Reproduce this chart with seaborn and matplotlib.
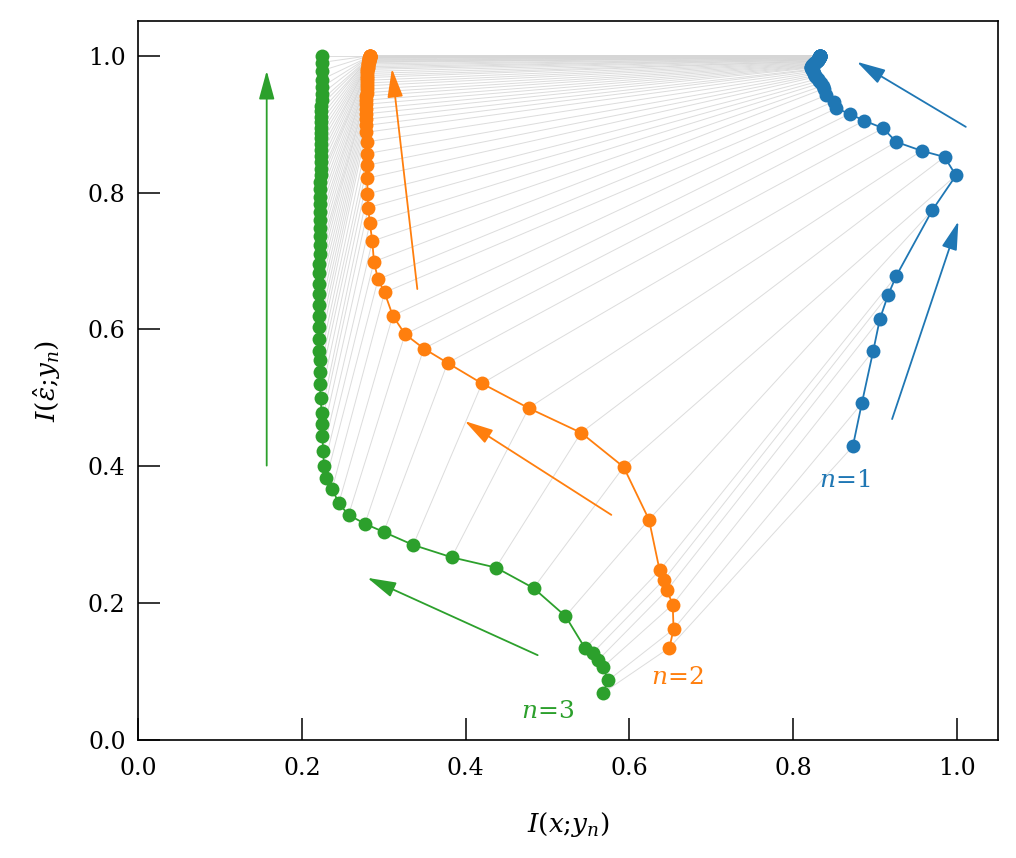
import numpy as np
import pandas as pd
import seaborn as sns
import matplotlib.pyplot as plt

# trajectories, one point per step, same length for all three
green_x = [0.568, 0.574, 0.568, 0.562, 0.555, 0.546, 0.522, 0.483, 0.437, 0.383,
           0.336, 0.300, 0.277, 0.257, 0.245, 0.237, 0.230, 0.227, 0.226, 0.225,
           0.224, 0.224, 0.223, 0.222, 0.222, 0.222, 0.221, 0.221, 0.221, 0.221,
           0.221, 0.221, 0.221, 0.221, 0.221, 0.222, 0.222, 0.222, 0.222, 0.222,
           0.222, 0.222, 0.222, 0.222, 0.222, 0.223, 0.223, 0.223, 0.223, 0.223,
           0.223, 0.223, 0.223, 0.223, 0.223, 0.223, 0.223, 0.223, 0.224, 0.224,
           0.224, 0.224, 0.224, 0.224, 0.224]
green_y = [0.069, 0.087, 0.107, 0.117, 0.127, 0.134, 0.181, 0.222, 0.252, 0.267,
           0.285, 0.304, 0.316, 0.329, 0.346, 0.367, 0.383, 0.400, 0.422, 0.444,
           0.462, 0.478, 0.500, 0.520, 0.538, 0.555, 0.569, 0.586, 0.603, 0.620,
           0.636, 0.652, 0.667, 0.682, 0.696, 0.710, 0.723, 0.736, 0.748, 0.760,
           0.772, 0.783, 0.794, 0.805, 0.815, 0.825, 0.835, 0.844, 0.853, 0.862,
           0.871, 0.879, 0.887, 0.895, 0.903, 0.911, 0.919, 0.927, 0.935, 0.944,
           0.954, 0.965, 0.978, 0.990, 1.000]

orange_x = [0.649, 0.654, 0.653, 0.646, 0.642, 0.637, 0.624, 0.593, 0.541, 0.477,
            0.420, 0.378, 0.349, 0.326, 0.311, 0.301, 0.293, 0.288, 0.286, 0.283,
            0.281, 0.280, 0.280, 0.280, 0.280, 0.279, 0.278, 0.278, 0.278, 0.278,
            0.278, 0.278, 0.278, 0.278, 0.279, 0.279, 0.279, 0.279, 0.279, 0.280,
            0.280, 0.280, 0.280, 0.280, 0.281, 0.281, 0.281, 0.281, 0.281, 0.282,
            0.282, 0.282, 0.282, 0.282, 0.282, 0.282, 0.283, 0.283, 0.283, 0.283,
            0.283, 0.283, 0.283, 0.283, 0.283]
orange_y = [0.135, 0.162, 0.198, 0.219, 0.234, 0.248, 0.322, 0.399, 0.449, 0.485,
            0.521, 0.551, 0.572, 0.593, 0.620, 0.654, 0.673, 0.699, 0.729, 0.755,
            0.778, 0.798, 0.821, 0.840, 0.857, 0.874, 0.888, 0.898, 0.907, 0.915,
            0.922, 0.929, 0.935, 0.941, 0.946, 0.951, 0.956, 0.960, 0.964, 0.968,
            0.971, 0.974, 0.977, 0.980, 0.982, 0.984, 0.986, 0.988, 0.990, 0.991,
            0.992, 0.993, 0.994, 0.995, 0.996, 0.997, 0.997, 0.998, 0.998, 0.999,
            0.999, 0.999, 1.000, 1.000, 1.000]

blue_x = [0.873, 0.884, 0.898, 0.906, 0.916, 0.926, 0.970, 0.999, 0.985, 0.957,
          0.926, 0.910, 0.887, 0.869, 0.853, 0.850, 0.840, 0.838, 0.836, 0.834,
          0.832, 0.830, 0.828, 0.827, 0.826, 0.825, 0.824, 0.823, 0.823, 0.822,
          0.822, 0.822, 0.823, 0.823, 0.824, 0.825, 0.826, 0.827, 0.828, 0.829,
          0.829, 0.830, 0.830, 0.831, 0.831, 0.831, 0.832, 0.832, 0.832, 0.832,
          0.832, 0.832, 0.832, 0.833, 0.833, 0.833, 0.833, 0.833, 0.833, 0.833,
          0.833, 0.833, 0.833, 0.833, 0.833]
blue_y = [0.429, 0.492, 0.569, 0.615, 0.650, 0.678, 0.774, 0.825, 0.852, 0.861,
          0.874, 0.894, 0.905, 0.915, 0.923, 0.933, 0.942, 0.952, 0.956, 0.960,
          0.963, 0.966, 0.969, 0.971, 0.973, 0.975, 0.977, 0.979, 0.980, 0.982,
          0.983, 0.984, 0.985, 0.986, 0.987, 0.988, 0.989, 0.990, 0.991, 0.992,
          0.992, 0.993, 0.994, 0.994, 0.995, 0.995, 0.996, 0.996, 0.997, 0.997,
          0.997, 0.998, 0.998, 0.998, 0.999, 0.999, 0.999, 0.999, 0.999, 1.000,
          1.000, 1.000, 1.000, 1.000, 1.000]

ticks = [0.0, 0.2, 0.4, 0.6, 0.8, 1.0]

sns.set_style('ticks')
plt.rcParams['font.family'] = ['DejaVu Serif']
plt.rcParams['mathtext.fontset'] = 'dejavuserif'
plt.rcParams['text.color'] = 'black'
plt.rcParams['axes.labelcolor'] = 'black'

blue, orange, green = '#1f77b4', '#ff7f0e', '#2ca02c'

fig, ax = plt.subplots(figsize=(10.16, 8.58), dpi=100)
fig.subplots_adjust(left=0.136, right=0.982, bottom=0.1375, top=0.975)

# grey links between the same step of each trajectory
for i in range(len(green_x)):
    ax.plot([green_x[i], orange_x[i], blue_x[i]], [green_y[i], orange_y[i], blue_y[i]],
            color='#d6d6d6', lw=0.7, alpha=0.85, zorder=1)

df = pd.concat([
    pd.DataFrame({'x': green_x, 'y': green_y, 'n': 3}),
    pd.DataFrame({'x': orange_x, 'y': orange_y, 'n': 2}),
    pd.DataFrame({'x': blue_x, 'y': blue_y, 'n': 1}),
])
for n, c in [(3, green), (2, orange), (1, blue)]:
    d = df[df.n == n]
    sns.lineplot(data=d, x='x', y='y', sort=False, estimator=None, color=c, lw=1.3,
                 marker='o', markersize=10, markeredgewidth=0, ax=ax, zorder=3)

# direction arrows
arrows = [
    ((0.921, 0.469), (1.002, 0.758), blue),
    ((1.011, 0.896), (0.878, 0.991), blue),
    ((0.341, 0.659), (0.310, 0.981), orange),
    ((0.578, 0.329), (0.399, 0.466), orange),
    ((0.157, 0.401), (0.157, 0.978), green),
    ((0.488, 0.124), (0.280, 0.237), green),
]
for start, end, c in arrows:
    ax.annotate('', xy=end, xytext=start,
                arrowprops=dict(arrowstyle='-|>,head_length=1.1,head_width=0.3',
                                color=c, lw=1.3, shrinkA=0, shrinkB=0,
                                mutation_scale=16))

ax.text(0.863, 0.379, r'$n$=1', color=blue, fontsize=18, ha='center', va='center')
ax.text(0.658, 0.092, r'$n$=2', color=orange, fontsize=18, ha='center', va='center')
ax.text(0.500, 0.041, r'$n$=3', color=green, fontsize=18, ha='center', va='center')

ax.set_xlim(0, 1.05)
ax.set_ylim(0, 1.05)
ax.set_xticks(ticks)
ax.set_yticks(ticks)
ax.set_xticklabels([f'{t:.1f}' for t in ticks])
ax.set_yticklabels([f'{t:.1f}' for t in ticks])
ax.tick_params(direction='in', length=16, width=1.1, labelsize=17, colors='black')
ax.tick_params(axis='x', pad=12)
ax.tick_params(axis='y', pad=9)
ax.set_xlabel(r'$I(x$;$y_n)$', fontsize=19, labelpad=22)
ax.set_ylabel(r'$I(\hat{\varepsilon}$;$y_n)$', fontsize=19, labelpad=18)
for s in ax.spines.values():
    s.set_linewidth(1.2)
    s.set_color('black')

fig.savefig('out.png', dpi=100)
